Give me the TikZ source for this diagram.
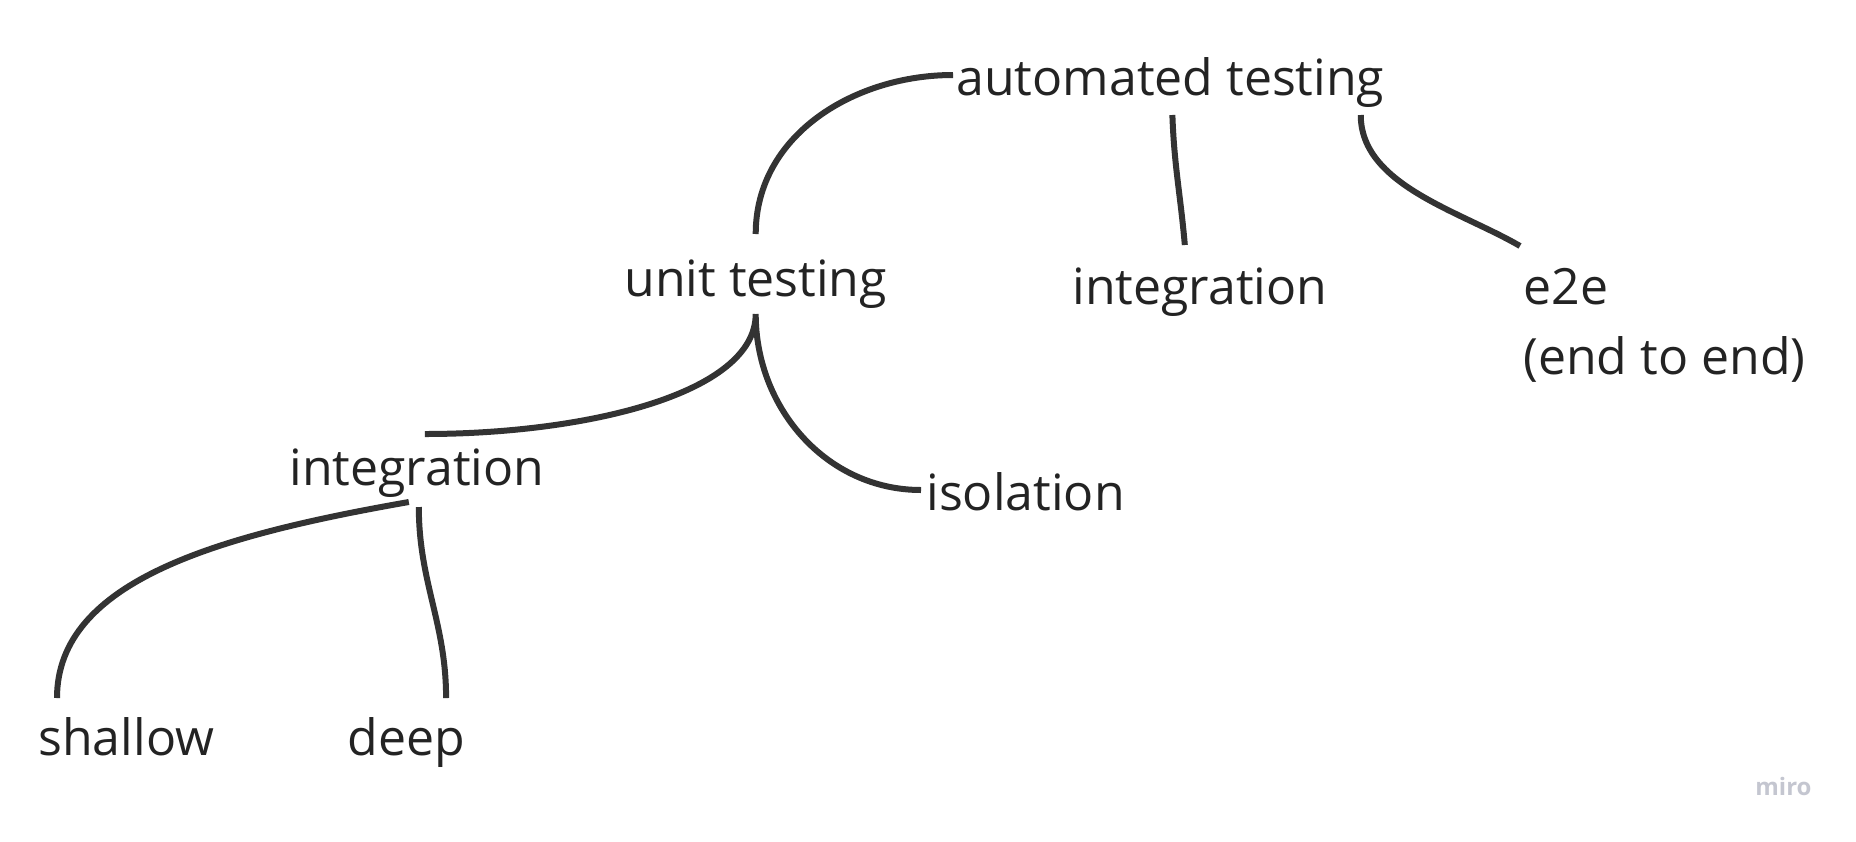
\documentclass[tikz,border=0pt]{standalone}
\usepackage{fontspec}
\setmainfont{Open Sans}
\usepackage{xcolor}
\usetikzlibrary{calc, positioning}
\definecolor{ink}{HTML}{333333}
\definecolor{textink}{HTML}{232323}
\definecolor{mirogrey}{HTML}{C4C6D0}

\begin{document}
\begin{tikzpicture}[x=0.5pt, y=0.5pt,
        txt/.style={inner sep=0pt, text=textink, font=\fontsize{25pt}{35pt}\selectfont},
        branch/.style={draw=ink, line width=3pt}]
        \useasboundingbox (0,0) rectangle (1856,-841);

        \node[txt, anchor=base west] (auto) at (956,-95) {automated testing};
        \node[txt, anchor=base west] (unit) at (624,-296) {unit testing};
        \node[txt, anchor=base west] (intA) at (1072,-304) {integration};
        \node[txt, anchor=north west, align=left] (e2e) at (1523,-268) {e2e\\(end to end)};
        \node[txt, anchor=base west] (intB) at (289,-485) {integration};
        \node[txt, anchor=base west] (iso) at (926,-510) {isolation};
        \node[txt, anchor=base west] (shal) at (38,-755) {shallow};
        \node[txt, anchor=base west] (deep) at (347,-755) {deep};
        \node[inner sep=0pt, anchor=base west, text=mirogrey, font=\bfseries\fontsize{12pt}{14pt}\selectfont] (miro) at (1755,-795) {miro};

        \path[branch]
        ($(auto.base west)+(-3,20)$) to[out=180, in=90] ($(unit.base)+(0,62)$)
        ($(auto.base)+(2,-20)$) to[out=-88, in=95] ($(intA.base)+(-15,59)$)
        ($(auto.base east)+(-24,-20)$) .. controls +(0,-70) and +(-60,35) .. ($(e2e.north west)+(-3,22)$)
        ($(unit.base)+(0,-18)$) .. controls +(0,-80) and +(160,0) .. ($(intB.base)+(8,51)$)
        ($(unit.base)+(0,-18)$) to[out=-90, in=180] ($(iso.base west)+(-5,20)$)
        ($(intB.base)+(-8,-17)$) .. controls +(-188,-33) and +(0,118) .. ($(shal.base west)+(19,57)$)
        ($(intB.base)+(2,-22)$) to[out=-90, in=90] ($(deep.base)+(40,57)$);

    \end{tikzpicture}
\end{document}
